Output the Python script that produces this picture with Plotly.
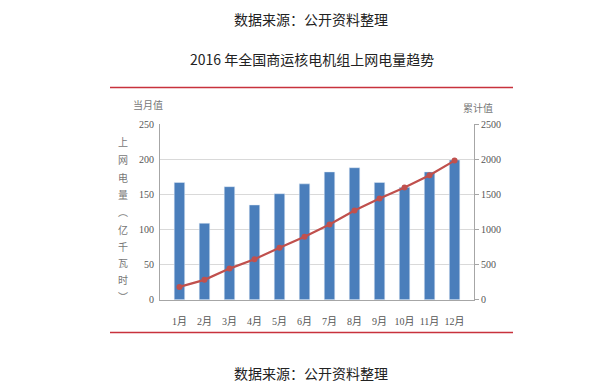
import plotly.graph_objects as go

months = ["1月", "2月", "3月", "4月", "5月", "6月", "7月", "8月", "9月", "10月", "11月", "12月"]
monthly = [167, 109, 161, 135, 151, 165, 182, 188, 167, 160, 182, 199]
cumulative = [184, 284, 444, 577, 742, 898, 1073, 1272, 1442, 1598, 1772, 1981]
left_ticks = [0, 50, 100, 150, 200, 250]
right_ticks = [0, 500, 1000, 1500, 2000, 2500]
ytitle_chars = ["上", "网", "电", "量", "︵", "亿", "千", "瓦", "时", "︶"]

W, H = 599, 390
def px(x): return x / W
def py(y):
    y = (y - 4.2) / 0.975  # compensate observed vertical mapping of the capture
    return (H - y) / H

fig = go.Figure()
fig.add_trace(go.Bar(x=months, y=monthly, marker_color="#4A7EBB", width=0.42,
                     name="当月值", yaxis="y"))
fig.add_trace(go.Scatter(x=months, y=cumulative, mode="lines+markers", name="累计值",
                         line=dict(color="#C0504D", width=2.2),
                         marker=dict(size=6, color="#C0504D"), yaxis="y2"))

tickfont = dict(family="Liberation Serif, Noto Sans CJK SC", size=10, color="#555555")
fig.update_layout(
    width=W, height=H, margin=dict(l=0, r=0, t=0, b=0),
    paper_bgcolor="white", plot_bgcolor="white", showlegend=False,
    xaxis=dict(domain=[px(160), px(474)], tickfont=tickfont, showline=True,
               linecolor="#A6A6A6", linewidth=1, ticks="", showgrid=False,
               ticklabelstandoff=12),
    yaxis=dict(range=[0, 250], tickvals=left_ticks, tickfont=tickfont,
               domain=[py(299), py(122.7)], showgrid=True, gridcolor="#D9D9D9",
               showline=True, linecolor="#A6A6A6", ticks="", zeroline=False,
               ticklabelstandoff=3),
    yaxis2=dict(range=[0, 2500], tickvals=right_ticks, tickfont=tickfont,
                overlaying="y", side="right", showgrid=False, showline=True,
                linecolor="#A6A6A6", ticks="outside", ticklen=4, tickcolor="#A6A6A6",
                zeroline=False),
)

# red frame lines
for yy in (86, 331.7):
    fig.add_shape(type="line", xref="paper", yref="paper", x0=px(110), x1=px(513),
                  y0=py(yy), y1=py(yy), line=dict(color="#C8323C", width=1.5))

def note(text, x, y, font):
    fig.add_annotation(text=text, x=px(x), y=py(y), xref="paper", yref="paper",
                       xanchor="center", yanchor="middle", showarrow=False, font=font)

txtfont = dict(family="Noto Sans CJK SC", size=14, color="#222222")
note("数据来源：公开资料整理", 311, 17, txtfont)
note("2016 年全国商运核电机组上网电量趋势", 312, 57, txtfont)
note("数据来源：公开资料整理", 311, 372, txtfont)

small = dict(family="Noto Sans CJK SC", size=10, color="#777777")
note("当月值", 148, 103, small)
note("累计值", 478, 106, small)
ys = [140, 158, 176, 193, 210, 228, 245, 262, 279, 296]
for ch, yy in zip(ytitle_chars, ys):
    note(ch, 123, yy, small)

fig.write_html(
    "out.html",
    config={"displayModeBar": False},
    post_script="document.body.style.margin='0';document.documentElement.style.overflow='hidden';document.body.style.overflow='hidden';",
)
